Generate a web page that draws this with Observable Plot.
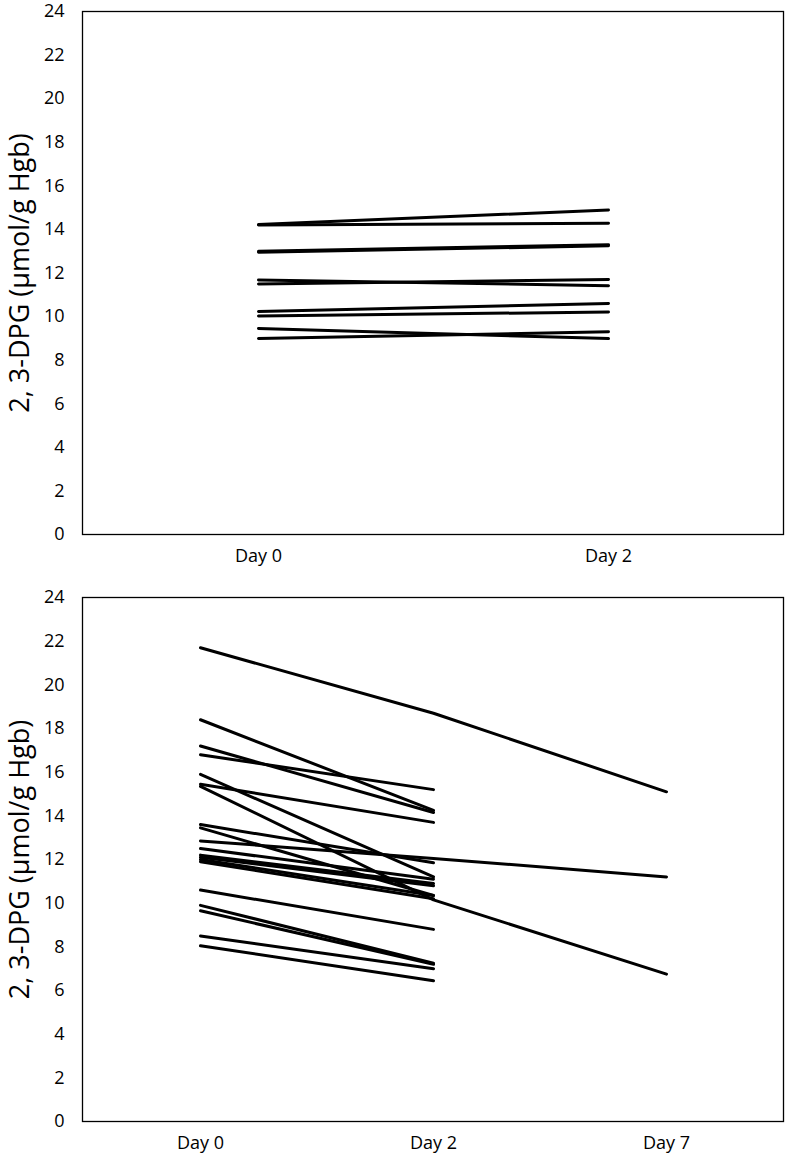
<!DOCTYPE html>
<html><head><meta charset="utf-8">
<script src="https://cdn.jsdelivr.net/npm/d3@7"></script>
<script src="https://cdn.jsdelivr.net/npm/@observablehq/plot@0.6"></script>
<style>body{margin:0;background:#fff} #c svg{display:block}</style>
</head><body><div id="c"></div>
<script>
const topDays = ["Day 0", "Day 2"];
const topDay0 = [14.23, 14.2, 13.0, 12.95, 11.68, 11.5, 10.23, 10.03, 9.45, 8.99];
const topDay2 = [14.89, 14.28, 13.3, 13.25, 11.42, 11.7, 10.6, 10.21, 8.99, 9.3];

const bottomDays = ["Day 0", "Day 2", "Day 7"];
const bottomDay0 = [21.7, 18.4, 17.2, 16.8, 15.9, 15.45, 15.35, 13.6, 13.45, 12.85, 12.5, 12.2, 12.1, 12.0, 11.9, 10.6, 9.9, 9.65, 8.5, 8.05];
const bottomDay2 = [18.7, 14.25, 14.15, 15.2, 11.2, 13.7, 10.15, 11.85, 10.35, 12.05, 11.1, 10.9, 10.8, 10.35, 10.2, 8.8, 7.25, 7.2, 7.0, 6.45];
const bottomDay7 = [15.1, null, null, null, null, null, 6.75, null, null, 11.2, null, null, null, null, null, null, null, null, null, null];

const yTicks = [0, 2, 4, 6, 8, 10, 12, 14, 16, 18, 20, 22, 24];
const yLabel = "2, 3-DPG (µmol/g Hgb)";

function rows(days, cols) {
  const out = [];
  cols[0].forEach((_, i) => {
    cols.forEach((col, j) => {
      if (col[i] != null) out.push({id: i, day: days[j], value: col[i]});
    });
  });
  return out;
}

function chart(days, cols, height, marginTop, marginBottom) {
  const data = rows(days, cols);
  return Plot.plot({
    width: 788,
    height,
    marginLeft: 82,
    marginRight: 5,
    marginTop,
    marginBottom,
    style: {fontFamily: "'Open Sans', sans-serif", fontSize: "18px", color: "#000", background: "#fff"},
    x: {type: "point", domain: days, padding: 0.5},
    y: {domain: [0, 24]},
    marks: [
      Plot.frame({stroke: "#000", strokeWidth: 1.3}),
      Plot.axisY({ticks: yTicks, tickSize: 0, tickPadding: 18, fontSize: 18, label: null}),
      Plot.text([yLabel], {frameAnchor: "left", dx: -62, rotate: -90, fontSize: 27, fill: "#000", textAnchor: "middle"}),
      Plot.axisX({tickSize: 0, tickPadding: 15, fontSize: 18, label: null}),
      Plot.line(data, {x: "day", y: "value", z: "id", stroke: "#000", strokeWidth: 3, strokeLinecap: "round"})
    ]
  });
}

const c = document.getElementById("c");
c.appendChild(chart(topDays, [topDay0, topDay2], 580, 11, 46));
c.appendChild(chart(bottomDays, [bottomDay0, bottomDay2, bottomDay7], 581, 17, 40));
</script>
</body></html>
